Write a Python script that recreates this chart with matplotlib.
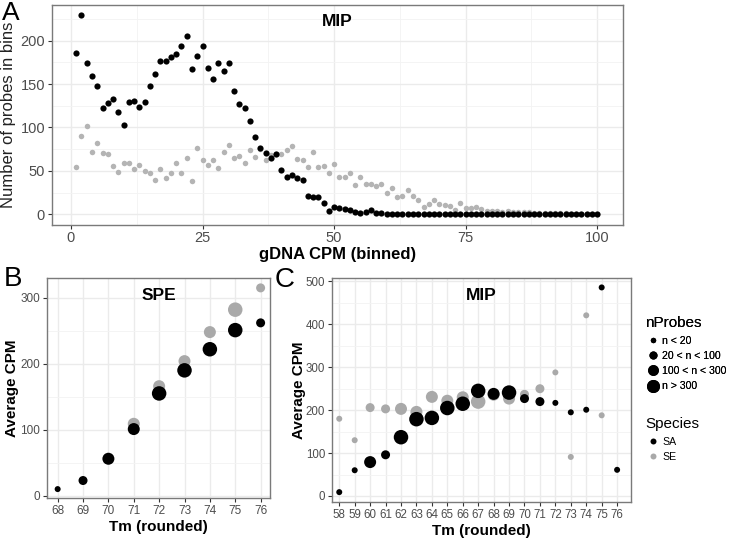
import matplotlib
matplotlib.use("Agg")
import matplotlib.pyplot as plt
import numpy as np
from matplotlib.lines import Line2D

plt.rcParams['font.family'] = ['Liberation Sans', 'DejaVu Sans']

# ---------------- Data ----------------
# Panel A: number of probes per gDNA CPM bin
binsA = list(range(1, 101))
sa_countsA = [186, 230, 174, 159, 148, 122, 128, 133, 118, 103,
              129, 131, 123, 129, 148, 162, 177, 177, 181, 185,
              194, 205, 167, 182, 194, 169, 156, 174, 165, 174,
              142, 127, 122, 107, 89, 76, 71, 65, 70, 51,
              43, 45, 42, 39, 21, 20, 20, 13, 4, 8,
              7, 6, 5, 3, 1, 3, 5, 2, 1, 0,
              0, 0, 0, 0, 0, 0, 0, 0, 0, 0,
              0, 0, 0, 0, 0, 0, 0, 0, 0, 0,
              0, 0, 0, 0, 0, 0, 0, 0, 0, 0,
              0, 0, 0, 0, 0, 0, 0, 0, 0, 0]
se_countsA = [54, 90, 102, 72, 82, 71, 69, 56, 49, 59,
              59, 52, 57, 50, 48, 40, 52, 42, 48, 59,
              48, 65, 38, 76, 62, 57, 62, 53, 72, 80,
              65, 67, 59, 74, 66, 75, 62, 68, 70, 69,
              74, 79, 64, 62, 55, 72, 54, 56, 47, 58,
              43, 43, 48, 34, 43, 35, 35, 33, 35, 25,
              30, 20, 21, 28, 21, 17, 8, 12, 17, 12,
              11, 10, 5, 13, 7, 7, 8, 6, 4, 4,
              4, 3, 4, 3, 3, 3, 3, 2, 2, 1,
              1, 1, 1, 1, 0, 0, 0, 0, 0, 0]

# Panel B: SPE
tmB_SA = [68, 69, 70, 71, 72, 73, 74, 75, 76]
cpmB_SA = [10, 23, 56, 101, 155, 190, 222, 251, 262]
nclsB_SA = [0, 1, 2, 2, 3, 3, 3, 3, 1]
tmB_SE = [71, 72, 73, 74, 75, 76]
cpmB_SE = [109, 166, 204, 248, 282, 315]
nclsB_SE = [2, 2, 2, 2, 3, 1]

# Panel C: MIP
tmC_SA = [58, 59, 60, 61, 62, 63, 64, 65, 66, 67, 68, 69, 70, 71, 72, 73, 74, 75, 76]
cpmC_SA = [9, 60, 79, 96, 137, 179, 182, 205, 215, 245, 238, 241, 227, 220, 217, 195, 201, 486, 61]
nclsC_SA = [0, 0, 2, 1, 3, 3, 3, 3, 3, 3, 2, 3, 1, 1, 0, 0, 0, 0, 0]
tmC_SE = [58, 59, 60, 61, 62, 63, 64, 65, 66, 67, 68, 69, 70, 71, 72, 73, 74, 75]
cpmC_SE = [180, 130, 206, 203, 203, 196, 231, 222, 230, 220, 236, 227, 237, 250, 288, 91, 421, 188]
nclsC_SE = [0, 0, 1, 1, 2, 2, 2, 2, 2, 3, 2, 2, 1, 1, 0, 0, 0, 0]

size_labels = ["n < 20", "20 < n < 100", "100 < n < 300", "n > 300"]
species = ["SA", "SE"]

# ---------------- Styling ----------------
W, H = 735, 541
DPI = 100
BLACK = "#000000"
GREY = "#a9a9a9"
GREY_A = "#b4b4b4"
diam_px = [6, 9, 12, 14.5]            # marker diameters in pixels per size class
size_s = [(d * 72 / DPI) ** 2 for d in diam_px]
TICKCOL = "#4d4d4d"
GRIDCOL = "#ebebeb"

fig = plt.figure(figsize=(W / DPI, H / DPI), dpi=DPI)


def add_ax(l, t, r, b):
    return fig.add_axes([l / W, 1 - b / H, (r - l) / W, (b - t) / H])


def style(ax, tick_fs):
    ax.set_facecolor("white")
    for s in ax.spines.values():
        s.set_color("#7a7a7a")
        s.set_linewidth(1.0)
    ax.tick_params(axis="both", which="major", length=3, width=0.8, color="#333333",
                   labelcolor=TICKCOL, labelsize=tick_fs, pad=2)
    ax.tick_params(axis="both", which="minor", length=0)
    ax.grid(True, which="major", color=GRIDCOL, lw=1.0, zorder=0)
    ax.grid(True, which="minor", color="#f3f3f3", lw=0.6, zorder=0)
    ax.set_axisbelow(True)


# ---------------- Panel A ----------------
axA = add_ax(52, 5, 623, 225)
style(axA, 10.5)
axA.tick_params(axis="x", pad=1)
axA.scatter(binsA, se_countsA, s=(5.5 * 0.72) ** 2, color=GREY_A, lw=0, zorder=2)
axA.scatter(binsA, sa_countsA, s=(6.2 * 0.72) ** 2, color=BLACK, lw=0, zorder=3)
axA.set_xlim(-3.6, 104.9)
axA.set_ylim(-12.3, 241)
axA.set_xticks([0, 25, 50, 75, 100])
axA.set_yticks([0, 50, 100, 150, 200])
axA.set_xticks([12.5, 37.5, 62.5, 87.5], minor=True)
axA.set_yticks([25, 75, 125, 175, 225], minor=True)
axA.set_xlabel("gDNA CPM (binned)", fontsize=12, fontweight="bold", labelpad=2)
axA.set_ylabel("Number of probes in bins", fontsize=12, labelpad=3, color="#222222")
axA.text(0.5, 0.925, "MIP", transform=axA.transAxes, ha="center", va="center",
         fontsize=12.5, fontweight="bold")
fig.text(2 / W, 1 - 1 / H, "A", fontsize=19, ha="left", va="top")

# ---------------- Panel B ----------------
axB = add_ax(47, 278, 270, 498)
style(axB, 8.5)
axB.scatter(tmB_SE, cpmB_SE, s=[size_s[c] for c in nclsB_SE], color=GREY, lw=0, zorder=2)
axB.scatter(tmB_SA, cpmB_SA, s=[size_s[c] for c in nclsB_SA], color=BLACK, lw=0, zorder=3)
axB.set_xlim(67.58, 76.37)
axB.set_ylim(-3.5, 330)
axB.set_xticks(list(range(68, 77)))
axB.set_yticks([0, 100, 200, 300])
axB.set_yticks([50, 150, 250], minor=True)
axB.set_xlabel("Tm (rounded)", fontsize=11, fontweight="bold", labelpad=2)
axB.set_ylabel("Average CPM", fontsize=11, fontweight="bold", labelpad=1)
axB.text(0.5, 0.92, "SPE", transform=axB.transAxes, ha="center", va="center",
         fontsize=12.5, fontweight="bold")
fig.text(4 / W, 1 - 279 / H, "B", fontsize=20, ha="left", va="center")

# ---------------- Panel C ----------------
axC = add_ax(332, 278, 631, 502)
style(axC, 8.3)
axC.scatter(tmC_SE, cpmC_SE, s=[size_s[c] for c in nclsC_SE], color=GREY, lw=0, zorder=2)
axC.scatter(tmC_SA, cpmC_SA, s=[size_s[c] for c in nclsC_SA], color=BLACK, lw=0, zorder=3)
axC.set_xlim(57.53, 76.9)
axC.set_ylim(-14, 508)
axC.set_xticks(list(range(58, 77)))
axC.set_yticks([0, 100, 200, 300, 400, 500])
axC.set_yticks([50, 150, 250, 350, 450], minor=True)
axC.set_xlabel("Tm (rounded)", fontsize=11, fontweight="bold", labelpad=2)
axC.set_ylabel("Average CPM", fontsize=11, fontweight="bold", labelpad=0)
axC.text(0.5, 0.92, "MIP", transform=axC.transAxes, ha="center", va="center",
         fontsize=12.5, fontweight="bold")
fig.text(275 / W, 1 - 280 / H, "C", fontsize=20, ha="left", va="center")

# ---------------- Legends ----------------
size_handles = [Line2D([], [], ls="", marker="o", color=BLACK,
                       markersize=d * 72 / DPI * 0.9, mec="none") for d in diam_px]
leg1 = fig.legend(size_handles, size_labels, title="nProbes", loc="upper left",
                  bbox_to_anchor=(640 / W, 1 - 311 / H), frameon=False,
                  fontsize=7.6, title_fontsize=11, labelspacing=0.5,
                  handletextpad=0.2, borderpad=0, handlelength=1.4,
                  alignment="left")
sp_handles = [Line2D([], [], ls="", marker="o", color=c, markersize=4.3, mec="none")
              for c in [BLACK, GREY]]
leg2 = fig.legend(sp_handles, species, title="Species", loc="upper left",
                  bbox_to_anchor=(640 / W, 1 - 412 / H), frameon=False,
                  fontsize=7.6, title_fontsize=11, labelspacing=0.5,
                  handletextpad=0.2, borderpad=0, handlelength=1.4,
                  alignment="left")
fig.add_artist(leg1)

fig.savefig("out.png", dpi=DPI)
